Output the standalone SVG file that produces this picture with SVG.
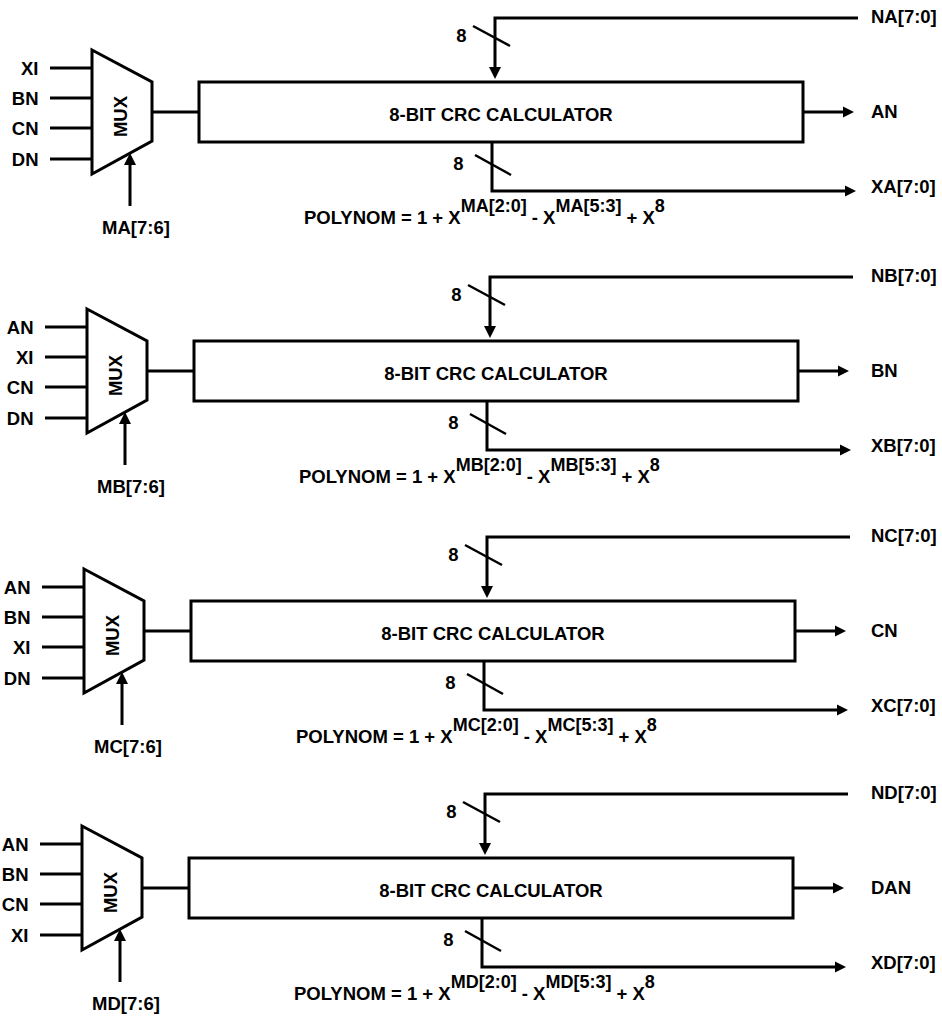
<svg xmlns="http://www.w3.org/2000/svg" width="942" height="1016" viewBox="0 0 942 1016">
<style>
text{font-family:"Liberation Sans",Arial,Helvetica,sans-serif;font-weight:bold;font-size:18.5px;fill:#000}
.w{fill:none;stroke:#000;stroke-width:3;stroke-linejoin:miter}
.s{fill:none;stroke:#000;stroke-width:2.5}
.box{fill:#fff;stroke:#000;stroke-width:3}
.ah{fill:#000;stroke:none}
.e{text-anchor:end}
.m{text-anchor:middle}
.sup{font-size:18px}
</style>
<defs>
<g id="conn">
<line class="w" x1="50" y1="68" x2="92" y2="68"/>
<line class="w" x1="50" y1="98" x2="92" y2="98"/>
<line class="w" x1="50" y1="128" x2="92" y2="128"/>
<line class="w" x1="50" y1="159" x2="92" y2="159"/>
<line class="w" x1="152" y1="112" x2="199" y2="112"/>
<line class="w" x1="130" y1="206" x2="130" y2="164"/>
<polygon class="ah" points="124,165 136,165 130,153"/>
<polyline class="w" points="858,18 495,18 495,68"/>
<polygon class="ah" points="489,67 501,67 495,79"/>
<line class="s" x1="473" y1="26" x2="510" y2="46"/>
<polyline class="w" points="492,142 492,191 846,191"/>
<polygon class="ah" points="845,185.5 845,196.5 856,191"/>
<line class="s" x1="475" y1="155" x2="511" y2="175"/>
<line class="w" x1="803" y1="112" x2="844" y2="112"/>
<polygon class="ah" points="843,106.5 843,117.5 854,112"/>
</g>
</defs>

<g id="connectors">
<use href="#conn"/>
<use href="#conn" transform="translate(-5,259)"/>
<use href="#conn" transform="translate(-8,519)"/>
<use href="#conn" transform="translate(-10,776)"/>
</g>

<!-- Block A -->
<g id="blockA">
<g id="muxA">
<polygon class="w" fill="#fff" points="92,50 152,82 152,141 92,174"/>
<text class="m" transform="translate(127,116.5) rotate(-90)">MUX</text>
</g>
<g id="crcA">
<rect class="box" x="199" y="82" width="604" height="60"/>
<text class="m" x="501" y="121">8-BIT CRC CALCULATOR</text>
</g>
<g id="labelsA">
<text class="e" x="38.5" y="75">XI</text>
<text class="e" x="38.5" y="105">BN</text>
<text class="e" x="38.5" y="135">CN</text>
<text class="e" x="38.5" y="166">DN</text>
<text class="m" x="136" y="234">MA[7:6]</text>
<text class="m" x="461.5" y="42">8</text>
<text class="m" x="458.5" y="170">8</text>
<text x="871" y="23">NA[7:0]</text>
<text x="871" y="118">AN</text>
<text x="871" y="193">XA[7:0]</text>
<text x="304" y="224">POLYNOM = 1 + X<tspan class="sup" dy="-12">MA[2:0]</tspan><tspan dy="12"> - X</tspan><tspan class="sup" dy="-12">MA[5:3]</tspan><tspan dy="12"> + X</tspan><tspan class="sup" dy="-12">8</tspan></text>
</g>
</g>

<!-- Block B -->
<g id="blockB" transform="translate(-5,259)">
<g id="muxB">
<polygon class="w" fill="#fff" points="92,50 152,82 152,141 92,174"/>
<text class="m" transform="translate(127,116.5) rotate(-90)">MUX</text>
</g>
<g id="crcB">
<rect class="box" x="199" y="82" width="604" height="60"/>
<text class="m" x="501" y="121">8-BIT CRC CALCULATOR</text>
</g>
<g id="labelsB">
<text class="e" x="38.5" y="75">AN</text>
<text class="e" x="38.5" y="105">XI</text>
<text class="e" x="38.5" y="135">CN</text>
<text class="e" x="38.5" y="166">DN</text>
<text class="m" x="136" y="234">MB[7:6]</text>
<text class="m" x="461.5" y="42">8</text>
<text class="m" x="458.5" y="170">8</text>
<text x="876" y="23">NB[7:0]</text>
<text x="876" y="118">BN</text>
<text x="876" y="193">XB[7:0]</text>
<text x="304" y="224">POLYNOM = 1 + X<tspan class="sup" dy="-12">MB[2:0]</tspan><tspan dy="12"> - X</tspan><tspan class="sup" dy="-12">MB[5:3]</tspan><tspan dy="12"> + X</tspan><tspan class="sup" dy="-12">8</tspan></text>
</g>
</g>

<!-- Block C -->
<g id="blockC" transform="translate(-8,519)">
<g id="muxC">
<polygon class="w" fill="#fff" points="92,50 152,82 152,141 92,174"/>
<text class="m" transform="translate(127,116.5) rotate(-90)">MUX</text>
</g>
<g id="crcC">
<rect class="box" x="199" y="82" width="604" height="60"/>
<text class="m" x="501" y="121">8-BIT CRC CALCULATOR</text>
</g>
<g id="labelsC">
<text class="e" x="38.5" y="75">AN</text>
<text class="e" x="38.5" y="105">BN</text>
<text class="e" x="38.5" y="135">XI</text>
<text class="e" x="38.5" y="166">DN</text>
<text class="m" x="136" y="234">MC[7:6]</text>
<text class="m" x="461.5" y="42">8</text>
<text class="m" x="458.5" y="170">8</text>
<text x="879" y="23">NC[7:0]</text>
<text x="879" y="118">CN</text>
<text x="879" y="193">XC[7:0]</text>
<text x="304" y="224">POLYNOM = 1 + X<tspan class="sup" dy="-12">MC[2:0]</tspan><tspan dy="12"> - X</tspan><tspan class="sup" dy="-12">MC[5:3]</tspan><tspan dy="12"> + X</tspan><tspan class="sup" dy="-12">8</tspan></text>
</g>
</g>

<!-- Block D -->
<g id="blockD" transform="translate(-10,776)">
<g id="muxD">
<polygon class="w" fill="#fff" points="92,50 152,82 152,141 92,174"/>
<text class="m" transform="translate(127,116.5) rotate(-90)">MUX</text>
</g>
<g id="crcD">
<rect class="box" x="199" y="82" width="604" height="60"/>
<text class="m" x="501" y="121">8-BIT CRC CALCULATOR</text>
</g>
<g id="labelsD">
<text class="e" x="38.5" y="75">AN</text>
<text class="e" x="38.5" y="105">BN</text>
<text class="e" x="38.5" y="135">CN</text>
<text class="e" x="38.5" y="166">XI</text>
<text class="m" x="136" y="234">MD[7:6]</text>
<text class="m" x="461.5" y="42">8</text>
<text class="m" x="458.5" y="170">8</text>
<text x="881" y="23">ND[7:0]</text>
<text x="881" y="118">DAN</text>
<text x="881" y="193">XD[7:0]</text>
<text x="304" y="224">POLYNOM = 1 + X<tspan class="sup" dy="-12">MD[2:0]</tspan><tspan dy="12"> - X</tspan><tspan class="sup" dy="-12">MD[5:3]</tspan><tspan dy="12"> + X</tspan><tspan class="sup" dy="-12">8</tspan></text>
</g>
</g>
</svg>
